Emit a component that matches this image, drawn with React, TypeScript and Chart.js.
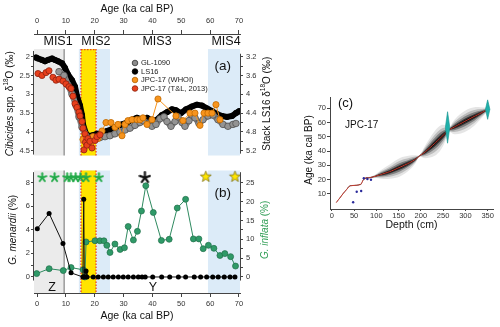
import React, { useEffect, useRef } from 'react';
import { Chart, registerables } from 'chart.js';

Chart.register(...registerables);

const FONT = "'Liberation Sans', Arial, Helvetica, sans-serif";
Chart.defaults.font.family = FONT;

// ---------------- Panel (a): benthic d18O ----------------
const ls16Age = [-0.35, 0.35, 1.73, 2.77, 3.81, 5.2, 6.24, 7.28, 8.66, 9.7, 10.74, 12.13, 13.17, 13.86, 14.9, 15.59, 15.94, 16.98, 18.02, 19.4, 20.79, 21.83, 22.87, 24.26, 25.99, 27.72, 29.45, 31.19, 32.92, 34.65, 36.38, 38.12, 39.85, 41.58, 43.31, 45.05, 46.78, 48.16, 49.9, 51.63, 53.71, 55.44, 57.17, 58.9, 60.64, 62.37, 64.1, 65.84, 67.57, 68.95, 70];
const ls16D18O = [3.22, 3.24, 3.27, 3.3, 3.27, 3.24, 3.27, 3.3, 3.34, 3.44, 3.58, 3.7, 3.84, 4.04, 4.24, 4.44, 4.64, 4.84, 4.89, 4.87, 4.84, 4.84, 4.82, 4.78, 4.74, 4.68, 4.64, 4.6, 4.54, 4.5, 4.54, 4.5, 4.56, 4.54, 4.44, 4.38, 4.32, 4.34, 4.4, 4.32, 4.26, 4.22, 4.24, 4.3, 4.36, 4.42, 4.46, 4.48, 4.46, 4.4, 4.36];

const gl1090Age = [7.62, 9.36, 10.74, 12.13, 13.51, 14.55, 15.59, 16.98, 18.36, 20.1, 21.83, 23.56, 25.29, 27.03, 28.76, 30.49, 32.22, 33.96, 35.69, 36.73, 38.46, 39.85, 41.23, 42.62, 44.0, 45.05, 46.43, 47.82, 48.86, 50.24, 51.28, 52.67, 53.71, 54.75, 56.13, 57.52, 59.25, 60.98, 62.72, 64.45, 66.18, 67.91, 68.95];
const gl1090D18O = [2.4, 2.5, 2.75, 3.0, 3.3, 3.6, 3.875, 4.1, 4.2, 4.2, 4.15, 4.125, 4.1, 4.05, 4.0, 3.95, 3.9, 3.825, 3.75, 3.7, 3.775, 3.85, 3.8, 3.65, 3.6, 3.725, 3.85, 3.725, 3.6, 3.75, 3.85, 3.7, 3.55, 3.625, 3.775, 3.675, 3.575, 3.55, 3.675, 3.8, 3.85, 3.8, 3.775];

const whoiAge = [15.94, 17.67, 19.4, 21.14, 22.52, 23.91, 25.64, 27.03, 28.07, 29.45, 30.49, 31.53, 32.92, 34.65, 35.69, 36.73, 38.12, 39.85, 41.93, 48.16, 50.59, 53.01, 54.75, 56.48, 57.87, 59.25, 60.64, 62.02, 63.41];
const whoiD18O = [4.2, 4.25, 4.125, 4.175, 3.975, 3.75, 3.75, 3.875, 3.8, 4.1, 3.8, 3.7, 3.675, 3.675, 3.675, 3.625, 3.8, 3.675, 3.125, 3.575, 3.7, 3.5, 3.5, 3.825, 3.5, 3.5, 3.5, 3.275, 3.675];

const tlAge = [0.35, 1.73, 3.12, 4.16, 5.54, 6.58, 7.62, 9.01, 10.05, 11.09, 11.78, 12.47, 13.17, 13.86, 14.55, 14.9, 15.59, 15.94, 16.29, 16.63, 16.8, 17.33, 17.67, 18.36, 19.06, 20.1, 20.79, 21.83];
const tlD18O = [2.45, 2.5, 2.425, 2.375, 2.55, 2.625, 2.6, 2.65, 2.725, 2.8, 2.85, 3.05, 3.25, 3.35, 3.475, 3.575, 3.725, 3.9, 4.475, 4.05, 4.275, 4.35, 4.175, 4.25, 4.425, 4.225, 4.125, 4.075];

// ---------------- Panel (b): planktic foraminifera ----------------
const menardiiAge = [0.1, 4.2, 9.0, 11.8, 15.9, 16.2, 16.4, 17.0, 17.3, 19.5, 21.2, 23.0, 24.7, 26.4, 28.2, 29.9, 31.6, 33.4, 35.1, 36.4, 37.5, 40.1, 43.2, 46.0, 49.0, 51.5, 54.5, 56.7, 58.8, 60.9, 62.8, 64.9, 66.9, 68.6];
const menardiiPct = [4.1, 5.4, 2.85, 0.35, 0, 6.6, 0, 0.5, 0, 0, 0, 0, 0, 0, 0, 0, 0, 0, 0, 0, 0, 0, 0, 0, 0, 0, 0, 0, 0, 0, 0, 0, 0, 0];

const inflataAge = [-0.1, 4.2, 9.1, 11.8, 16.0, 16.6, 17.0, 20.1, 21.8, 23.2, 24.2, 25.3, 27.0, 28.8, 30.3, 31.6, 33.4, 34.8, 36.2, 37.7, 40.3, 43.1, 45.8, 48.6, 51.5, 54.2, 56.1, 57.6, 59.4, 61.3, 63.4, 65.1, 67.1, 68.8];
const inflataPct = [0.9, 2.2, 1.7, 2.5, 1.9, 0, 9.3, 9.6, 9.6, 9.6, 8.4, 6.5, 8.75, 7.3, 7.75, 13.4, 9.8, 12.1, 17.5, 24.2, 17.1, 9.7, 10.0, 18.3, 20.6, 10.1, 10.1, 7.5, 8.4, 7.6, 5.7, 6.2, 5.4, 2.9];

const greenStarAge = [1.8, 6.1, 10.45, 11.75, 13.4, 15.05, 17.0, 21.45];
const greenStarLevel = [8.44, 8.44, 8.44, 8.44, 8.44, 8.44, 8.44, 8.44];
const blackStarAge = [37.4];
const blackStarLevel = [8.44];
const yellowStarAge = [58.5, 68.6];
const yellowStarLevel = [8.55, 8.55];

// ---------------- ticks / annotations ----------------
const ageTicks = [0, 10, 20, 30, 40, 50, 60, 70];
const aLeftTicks = [2, 2.5, 3, 3.5, 4, 4.5];
const aLeftMinor = [2, 2.25, 2.5, 2.75, 3, 3.25, 3.5, 3.75, 4, 4.25, 4.5];
const aRightTicks = [3.2, 3.6, 4, 4.4, 4.8, 5.2];
const aRightMinor = [3.2, 3.4, 3.6, 3.8, 4, 4.2, 4.4, 4.6, 4.8, 5, 5.2];
const bLeftTicks = [0, 2, 4, 6, 8];
const bLeftMinor = [0, 1, 2, 3, 4, 5, 6, 7, 8];
const bRightTicks = [0, 5, 10, 15, 20, 25];
const bRightMinor = [0, 2.5, 5, 7.5, 10, 12.5, 15, 17.5, 20, 22.5, 25];

const misNames = ['MIS1', 'MIS2', 'MIS3', 'MIS4'];
const misLabelAge = [7.3, 20.4, 41.6, 65.5];
const mis1Range = [-1.04, 9.4];
const mis2Range = [14.5, 25.3];
const lgmRange = [15.25, 20.45];
const mis4Range = [59.25, 70.35];
const zoneNames = ['Z', 'Y'];
const zoneAge = [5.2, 40.2];

const legendNames = ['GL-1090', 'LS16', 'JPC-17 (WHOI)', 'JPC-17 (T&L, 2013)'];

// ---------------- Panel (c): age-depth model ----------------
const depthTicks = [0, 50, 100, 150, 200, 250, 300, 350];
const cAgeTicks = [10, 20, 30, 40, 50, 60, 70];
const modelDepth = [10, 15, 20, 26, 33, 40, 50, 60, 66, 70, 75, 85, 97, 110, 130, 153, 175, 188, 197, 210, 230, 245, 255, 261, 275, 290, 305, 320, 335, 350];
const modelAge = [4, 6, 8, 10.5, 13, 15.5, 16, 16.3, 17, 19.5, 21, 21.4, 22.3, 23.6, 25.6, 28.7, 31.9, 34.3, 36.6, 39.5, 45, 49.5, 52.5, 54.5, 56.8, 59.3, 61.8, 64.2, 66.6, 69];
const modelSpread = [0.4, 0.4, 0.4, 0.4, 0.4, 0.4, 0.4, 0.5, 0.5, 0.6, 0.6, 0.7, 1.2, 3, 5, 6.5, 5, 2.8, 0.6, 4.5, 8.5, 8.5, 5.5, 1.2, 5, 7, 7.5, 6.5, 4, 1.2];
const dateDepth = [48, 56, 66, 72, 80, 88];
const dateAge = [4.2, 11.6, 12.1, 21, 20.5, 20];
const dist1Depth = [260, 265, 260, 255, 260];
const dist1Age = [45.5, 56.5, 67.5, 56.5, 45.5];
const dist2Depth = [350, 355, 350, 345, 350];
const dist2Age = [62.2, 69.2, 75.8, 69.2, 62.2];

// ---------------- helpers ----------------
const pts = (xs: number[], ys: number[]) => xs.map((x, i) => ({ x, y: ys[i] }));

type Seg = { t: string; it?: boolean; sup?: boolean };
function drawRich(ctx: any, segs: Seg[], x: number, y: number, size: number, color: string, rot = 0) {
  ctx.save();
  ctx.translate(x, y);
  if (rot) ctx.rotate(rot);
  ctx.fillStyle = color;
  ctx.textBaseline = 'middle';
  ctx.textAlign = 'left';
  const fontOf = (s: Seg) => `${s.it ? 'italic ' : ''}${s.sup ? size * 0.65 : size}px ${FONT}`;
  let total = 0;
  for (const s of segs) { ctx.font = fontOf(s); total += ctx.measureText(s.t).width; }
  let cx = -total / 2;
  for (const s of segs) {
    ctx.font = fontOf(s);
    ctx.fillText(s.t, cx, s.sup ? -size * 0.35 : 0);
    cx += ctx.measureText(s.t).width;
  }
  ctx.restore();
}

function text(ctx: any, s: string, x: number, y: number, size: number, align = 'center', color = '#111') {
  ctx.save();
  ctx.font = `${size}px ${FONT}`;
  ctx.fillStyle = color;
  ctx.textAlign = align;
  ctx.textBaseline = 'middle';
  ctx.fillText(s, x, y);
  ctx.restore();
}

function vline(ctx: any, x: number, y0: number, y1: number, color = '#444') {
  ctx.save();
  ctx.strokeStyle = color;
  ctx.lineWidth = 1;
  ctx.beginPath();
  ctx.moveTo(x, y0);
  ctx.lineTo(x, y1);
  ctx.stroke();
  ctx.restore();
}

function makeStar(fill: string, stroke: string, size: number, rOut: number, rIn: number) {
  const c = document.createElement('canvas');
  c.width = size; c.height = size;
  const g = c.getContext('2d') as any;
  g.beginPath();
  for (let i = 0; i < 10; i++) {
    const r = i % 2 === 0 ? rOut : rIn;
    const a = -Math.PI / 2 + (i * Math.PI) / 5;
    const px = size / 2 + r * Math.cos(a);
    const py = size / 2 + r * Math.sin(a) + 0.5;
    if (i) g.lineTo(px, py); else g.moveTo(px, py);
  }
  g.closePath();
  g.fillStyle = fill; g.fill();
  g.strokeStyle = stroke; g.lineWidth = 0.7; g.stroke();
  return c;
}

function makeAsterisk(color: string, size: number, r: number, lw: number) {
  const c = document.createElement('canvas');
  c.width = size; c.height = size;
  const g = c.getContext('2d') as any;
  g.strokeStyle = color; g.lineWidth = lw; g.lineCap = 'round';
  for (let k = 0; k < 5; k++) {
    const a = -Math.PI / 2 + (k * 2 * Math.PI) / 5;
    g.beginPath();
    g.moveTo(size / 2, size / 2);
    g.lineTo(size / 2 + r * Math.cos(a), size / 2 + r * Math.sin(a));
    g.stroke();
  }
  return c;
}

function yScale(position: string, min: number, max: number, reverse: boolean, all: number[], labeled: number[], width: number, pad: number) {
  return {
    type: 'linear', position, min, max, reverse,
    afterBuildTicks: (s: any) => { s.ticks = all.map((v) => ({ value: v })); },
    afterFit: (s: any) => { s.width = width; },
    ticks: {
      autoSkip: false, padding: pad, color: '#333', font: { family: FONT, size: 7.5 },
      callback: (v: number) => (labeled.includes(v) ? String(v) : ''),
    },
    grid: { drawOnChartArea: false, drawTicks: true, tickLength: 3, color: '#444' },
    border: { display: false },
  };
}

function xScale(position: string, min: number, max: number, all: number[], height: number, tickLen: number, pad: number) {
  return {
    type: 'linear', position, min, max,
    afterBuildTicks: (s: any) => { s.ticks = all.map((v) => ({ value: v })); },
    afterFit: (s: any) => { s.height = height; },
    ticks: { autoSkip: false, maxRotation: 0, padding: pad, color: '#333', font: { family: FONT, size: 7.5 }, callback: (v: number) => String(v) },
    grid: { drawOnChartArea: false, drawTicks: true, tickLength: tickLen, color: '#444' },
    border: { display: true, color: '#444', width: 1 },
  };
}

function drawBands(ctx: any, x: any, ca: any, top: number, bottom: number, topEdge: boolean) {
  const px = (v: number) => Math.max(ca.left, Math.min(ca.right, x.getPixelForValue(v)));
  const rect = (r: number[], color: string) => {
    ctx.fillStyle = color;
    ctx.fillRect(px(r[0]), top, px(r[1]) - px(r[0]), bottom - top);
  };
  ctx.save();
  rect(mis1Range, '#ebebeb');
  rect(mis2Range, '#dcebf8');
  rect(mis4Range, '#dcebf8');
  rect(lgmRange, '#ffe400');
  ctx.strokeStyle = '#6e6e6e';
  ctx.lineWidth = 1;
  ctx.beginPath();
  ctx.moveTo(px(mis1Range[1]), top);
  ctx.lineTo(px(mis1Range[1]), bottom);
  ctx.stroke();
  ctx.strokeStyle = '#e8412a';
  ctx.lineWidth = 1.3;
  ctx.setLineDash([1.5, 1.5]);
  ctx.beginPath();
  ctx.moveTo(px(lgmRange[0]), top); ctx.lineTo(px(lgmRange[0]), bottom);
  ctx.moveTo(px(lgmRange[1]), top); ctx.lineTo(px(lgmRange[1]), bottom);
  if (topEdge) { ctx.moveTo(px(lgmRange[0]), top + 0.5); ctx.lineTo(px(lgmRange[1]), top + 0.5); }
  ctx.stroke();
  ctx.restore();
}

const baseOptions = {
  responsive: false,
  maintainAspectRatio: false,
  animation: false,
  devicePixelRatio: 1,
  events: [],
  layout: { padding: 0, autoPadding: false },
  plugins: { legend: { display: false }, tooltip: { enabled: false } },
};

// ---------------- Chart A ----------------
function cfgA() {
  const plugin = {
    id: 'panelA',
    beforeDatasetsDraw(chart: any) {
      const { ctx, chartArea: ca, scales } = chart;
      drawBands(ctx, scales.x, ca, scales.yA.getPixelForValue(1.8), ca.bottom, true);
    },
    afterDraw(chart: any) {
      const { ctx, chartArea: ca, scales } = chart;
      const x = scales.x, yA = scales.yA, yA2 = scales.yA2;
      vline(ctx, ca.left - 0.5, yA.getPixelForValue(1.85), yA.getPixelForValue(4.6));
      vline(ctx, ca.right + 0.5, yA2.getPixelForValue(3.14), yA2.getPixelForValue(5.26));
      misNames.forEach((n, i) => text(ctx, n, x.getPixelForValue(misLabelAge[i]), 41.5, 12.5));
      text(ctx, '(a)', x.getPixelForValue(64.4), yA.getPixelForValue(2.25), 13.5);
      const mk = [
        ['#8c8c8c', '#333333'], ['#000000', '#000000'], ['#f7941d', '#b35f00'], ['#e8401c', '#8a1f0a'],
      ];
      const rows = [63, 71.5, 80, 88.5];
      legendNames.forEach((n, i) => {
        ctx.save();
        ctx.beginPath();
        ctx.arc(135, rows[i], 2.8, 0, Math.PI * 2);
        ctx.fillStyle = mk[i][0]; ctx.fill();
        ctx.strokeStyle = mk[i][1]; ctx.lineWidth = 0.8; ctx.stroke();
        ctx.restore();
        text(ctx, n, 141, rows[i], 7.5, 'left', '#222');
      });
      text(ctx, 'Age (ka cal BP)', (ca.left + ca.right) / 2, 9, 10.5);
      drawRich(ctx, [{ t: 'Cibicides', it: true }, { t: ' spp. δ' }, { t: '18', sup: true }, { t: 'O (‰)' }], 10, yA.getPixelForValue(3.25), 10, '#111', -Math.PI / 2);
      drawRich(ctx, [{ t: 'Stack LS16 δ' }, { t: '18', sup: true }, { t: 'O (‰)' }], 267, yA2.getPixelForValue(4.2), 10, '#111', -Math.PI / 2);
    },
  };
  return {
    type: 'scatter',
    data: {
      datasets: [
        {
          data: pts(tlAge, tlD18O), yAxisID: 'yA', showLine: true, order: 1,
          borderColor: '#e8401c', borderWidth: 1, pointRadius: 3.1,
          pointBackgroundColor: '#e8401c', pointBorderColor: '#8f2210', pointBorderWidth: 0.8,
        },
        {
          data: pts(whoiAge, whoiD18O), yAxisID: 'yA', showLine: true, order: 2,
          borderColor: '#f7941d', borderWidth: 1, pointRadius: 3.1,
          pointBackgroundColor: '#f7941d', pointBorderColor: '#c06a00', pointBorderWidth: 0.8,
        },
        {
          data: pts(gl1090Age, gl1090D18O), yAxisID: 'yA', showLine: true, order: 3,
          borderColor: '#858585', borderWidth: 6, borderJoinStyle: 'round', borderCapStyle: 'round', pointRadius: 3.3,
          pointBackgroundColor: '#939393', pointBorderColor: '#4a4a4a', pointBorderWidth: 0.7,
        },
        {
          data: pts(ls16Age, ls16D18O), yAxisID: 'yA2', showLine: true, order: 4,
          borderColor: '#000', borderWidth: 6, borderJoinStyle: 'round', borderCapStyle: 'round', pointRadius: 3,
          pointBackgroundColor: '#000', pointBorderColor: '#000', pointBorderWidth: 0,
        },
      ],
    },
    options: {
      ...baseOptions,
      scales: {
        x: xScale('top', -1.04, 70.35, ageTicks, 34, 4, 5),
        yA: yScale('left', 1.4, 4.625, true, aLeftMinor, aLeftTicks, 34, 1),
        yA2: yScale('right', 2.72, 5.3, true, aRightMinor, aRightTicks, 50, 3),
      },
    },
    plugins: [plugin],
  };
}

// ---------------- Chart B ----------------
function cfgB() {
  const yellowStar = makeStar('#ffe600', '#6f6100', 13, 5.8, 2.4);
  const greenAst = makeAsterisk('#22aa48', 11, 4.3, 2);
  const blackAst = makeAsterisk('#111111', 13, 5.3, 2.2);
  const plugin = {
    id: 'panelB',
    beforeDatasetsDraw(chart: any) {
      const { ctx, chartArea: ca, scales } = chart;
      drawBands(ctx, scales.x, ca, ca.top, ca.bottom, false);
    },
    afterDraw(chart: any) {
      const { ctx, chartArea: ca, scales } = chart;
      const x = scales.x, yB = scales.yB, yB2 = scales.yB2;
      vline(ctx, ca.left - 0.5, yB.getPixelForValue(8.9), yB.getPixelForValue(-0.3));
      vline(ctx, ca.right + 0.5, yB2.getPixelForValue(27.8), yB2.getPixelForValue(-0.95));
      zoneNames.forEach((n, i) => text(ctx, n, x.getPixelForValue(zoneAge[i]), yB.getPixelForValue(-0.88), 12.5));
      text(ctx, '(b)', x.getPixelForValue(64.4), yB.getPixelForValue(7.12), 13.5);
      drawRich(ctx, [{ t: 'G. menardii', it: true }, { t: ' (%)' }], 13, yB.getPixelForValue(4), 10, '#111', -Math.PI / 2);
      drawRich(ctx, [{ t: 'G. inflata', it: true }, { t: ' (%)' }], 265, yB2.getPixelForValue(12.5), 10, '#2f9e55', -Math.PI / 2);
      text(ctx, 'Age (ka cal BP)', (ca.left + ca.right) / 2, chart.height - 11, 10.5);
    },
  };
  return {
    type: 'scatter',
    data: {
      datasets: [
        { data: pts(greenStarAge, greenStarLevel), yAxisID: 'yB', order: 0, pointStyle: greenAst, pointRadius: 5, clip: false },
        { data: pts(blackStarAge, blackStarLevel), yAxisID: 'yB', order: 0, pointStyle: blackAst, pointRadius: 6, clip: false },
        { data: pts(yellowStarAge, yellowStarLevel), yAxisID: 'yB', order: 0, pointStyle: yellowStar, pointRadius: 6, clip: false },
        {
          data: pts(menardiiAge, menardiiPct), yAxisID: 'yB', showLine: true, order: 1,
          borderColor: '#111', borderWidth: 1, pointRadius: 2.5,
          pointBackgroundColor: '#000', pointBorderColor: '#000', pointBorderWidth: 0,
        },
        {
          data: pts(inflataAge, inflataPct), yAxisID: 'yB2', showLine: true, order: 2,
          borderColor: '#2f8a60', borderWidth: 1, pointRadius: 3,
          pointBackgroundColor: '#2f9a68', pointBorderColor: '#1f6e49', pointBorderWidth: 0.7,
        },
      ],
    },
    options: {
      ...baseOptions,
      scales: {
        x: xScale('bottom', -1.04, 70.35, ageTicks, 34, 4, 2),
        yB: yScale('left', -1.36, 9.04, false, bLeftMinor, bLeftTicks, 34, 1),
        yB2: yScale('right', -4.25, 28.25, false, bRightMinor, bRightTicks, 50, 3),
      },
    },
    plugins: [plugin],
  };
}

// ---------------- Chart C ----------------
function cfgC() {
  const levels = [1, 0.7, 0.45, 0.25, 0.1];
  const alphas = [0.1, 0.18, 0.33, 0.6, 0.95];
  const bandSets: any[] = [];
  levels.forEach((lv, k) => {
    const common = { showLine: true, pointRadius: 0, borderWidth: 0, tension: 0.35, order: 20 - k };
    bandSets.push({
      ...common,
      data: modelDepth.map((d, i) => ({ x: d, y: modelAge[i] + modelSpread[i] * lv })),
      fill: '+1',
      backgroundColor: `rgba(0,0,0,${alphas[k]})`,
      borderColor: 'rgba(0,0,0,0)',
    });
    bandSets.push({
      ...common,
      data: modelDepth.map((d, i) => ({ x: d, y: modelAge[i] - modelSpread[i] * lv })),
      fill: false,
      borderColor: 'rgba(0,0,0,0)',
    });
  });
  const plugin = {
    id: 'panelC',
    afterDraw(chart: any) {
      const { ctx, chartArea: ca } = chart;
      text(ctx, '(c)', ca.left + 15.5, ca.top + 6, 13);
      text(ctx, 'JPC-17', ca.left + 15, ca.top + 28, 10, 'left');
      drawRich(ctx, [{ t: 'Age (ka cal BP)' }], 14, 65, 10, '#111', -Math.PI / 2);
      text(ctx, 'Depth (cm)', (ca.left + ca.right) / 2, 140, 10.5);
    },
  };
  return {
    type: 'line',
    data: {
      datasets: [
        ...bandSets,
        {
          data: pts(modelDepth, modelAge), showLine: true, pointRadius: 0, borderColor: '#c8372a',
          borderWidth: 1, tension: 0.2, fill: false, order: 5,
        },
        {
          data: pts(dist1Depth, dist1Age), showLine: true, pointRadius: 0, borderColor: '#16938f',
          backgroundColor: '#1fb0aa', borderWidth: 0.6, fill: 'shape', order: 3,
        },
        {
          data: pts(dist2Depth, dist2Age), showLine: true, pointRadius: 0, borderColor: '#16938f',
          backgroundColor: '#1fb0aa', borderWidth: 0.6, fill: 'shape', order: 3,
        },
        {
          data: pts(dateDepth, dateAge), showLine: false, pointRadius: 1.2, borderWidth: 0,
          pointBackgroundColor: '#2a2a9a', pointBorderWidth: 0, fill: false, order: 1,
        },
      ],
    },
    options: {
      ...baseOptions,
      layout: { padding: { top: 12, right: 7, left: 0, bottom: 0 }, autoPadding: false },
      scales: {
        x: xScale('bottom', -4, 362, depthTicks, 26, 2, 0),
        y: { ...yScale('left', -0.5, 77.8, false, cAgeTicks, cAgeTicks, 35, 1), border: { display: true, color: '#444', width: 1 } },
      },
    },
    plugins: [plugin],
  };
}

export default function App() {
  const refA = useRef<HTMLCanvasElement>(null);
  const refB = useRef<HTMLCanvasElement>(null);
  const refC = useRef<HTMLCanvasElement>(null);
  useEffect(() => {
    const a = new Chart(refA.current as any, cfgA() as any);
    const b = new Chart(refB.current as any, cfgB() as any);
    const c = new Chart(refC.current as any, cfgC() as any);
    return () => { a.destroy(); b.destroy(); c.destroy(); };
  }, []);
  const abs = (left: number, top: number, w: number, h: number) => ({ position: 'absolute' as const, left, top, width: w, height: h });
  return (
    <div style={{ position: 'fixed', left: 0, top: 0, width: 500, height: 327, background: '#fff', overflow: 'hidden' }}>
      <canvas ref={refA} width={290} height={163} style={abs(0, 0, 290, 163)} />
      <canvas ref={refB} width={290} height={164} style={abs(0, 163, 290, 164)} />
      <canvas ref={refC} width={205} height={150} style={abs(295, 85, 205, 150)} />
    </div>
  );
}
